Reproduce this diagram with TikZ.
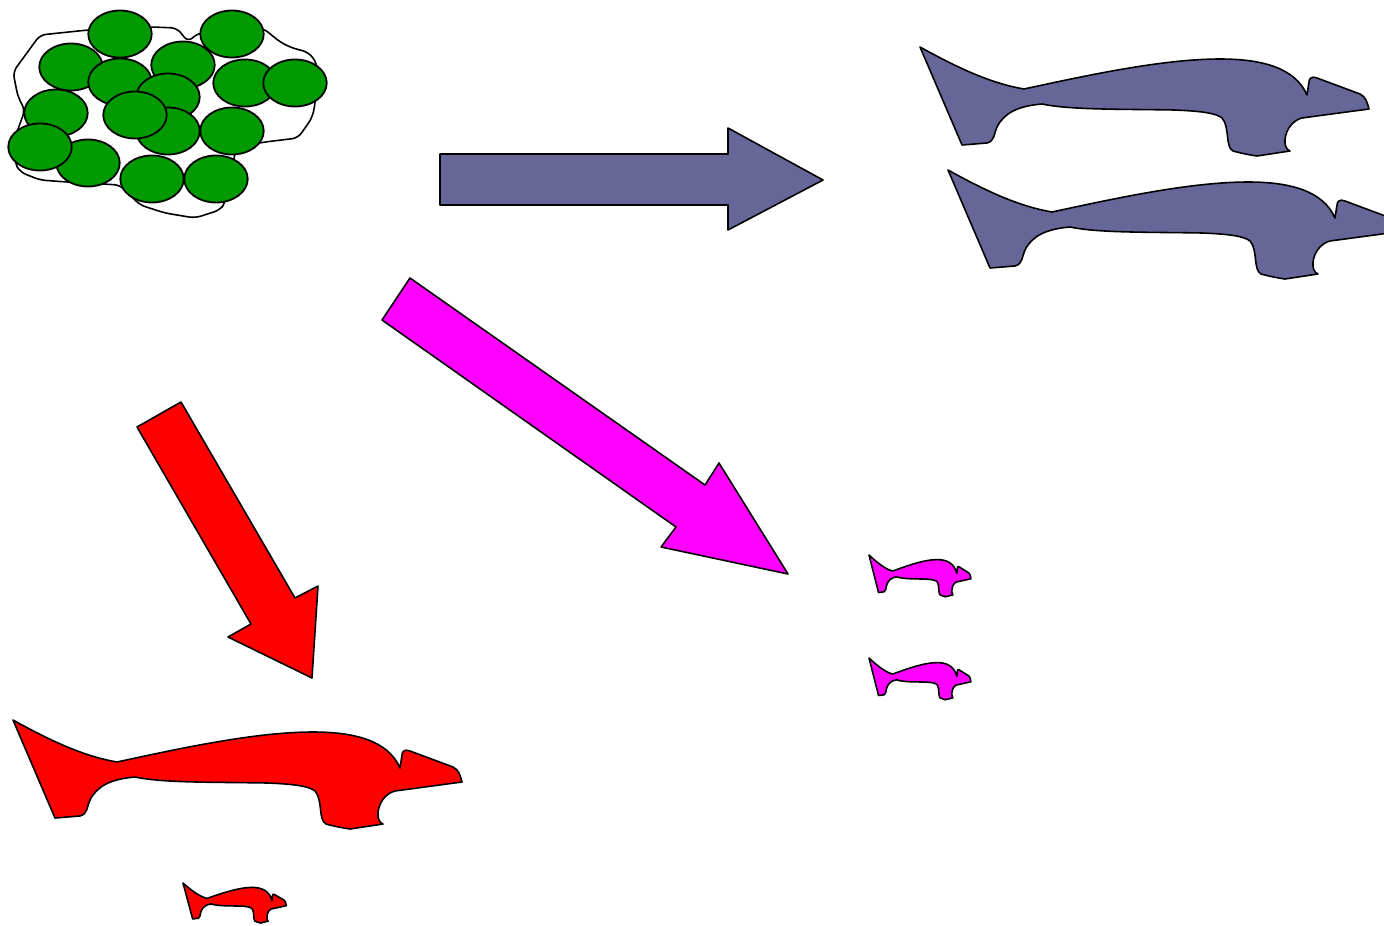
\documentclass[tikz,border=0pt]{standalone}
\definecolor{Slate}{RGB}{102, 102, 153}
\definecolor{Leaf}{RGB}{0, 153, 0}
\definecolor{Fuchsia}{RGB}{255, 0, 255}
\definecolor{Scarlet}{RGB}{255, 0, 0}
\usepackage{tikz}
\usetikzlibrary{calc}

\begin{document}
\begin{tikzpicture}[
        x=0.02cm, y=-0.02cm,
        outline/.style={draw=black, line width=0.9pt, line join=round},
        blob/.style={outline, rounded corners=1.2mm},
        egg/.style={draw=black, fill=Leaf, line width=1pt},
        animal/.pic={
            \filldraw[outline, fill=#1] (0,0) -- (42,98) -- (67,96)
                .. controls (75,94) and (74,86) .. (77,80)
                .. controls (84,66) and (98,59) .. (122,57)
                .. controls (150,63) and (200,62) .. (254,63)
                .. controls (280,64) and (296,66) .. (302,71)
                .. controls (310,80) and (305,100) .. (313,104)
                .. controls (320,106) and (330,108) .. (337,109)
                -- (370,104)
                .. controls (362,101) and (364,85) .. (372,77)
                .. controls (375,74) and (378,72) .. (382,71)
                -- (449,62)
                .. controls (447,55) and (446,50) .. (440,47)
                -- (397,31)
                .. controls (392,29) and (389,31) .. (389,35)
                -- (387,48)
                .. controls (375,20) and (340,12) .. (300,12)
                .. controls (240,12) and (160,30) .. (104,42)
                .. controls (75,37) and (45,25) .. (0,0) -- cycle;
        }
    ]
        \clip (0,0) rectangle (1384,926);

        % nest of eggs
        \draw[blob] (13,72) -- (40,35) -- (88,30) -- (152,27) -- (177,28)
            -- (188,42) -- (198,33) -- (263,28) -- (280,42) -- (292,48)
            -- (308,52) -- (317,63) -- (315,105) -- (312,118) -- (298,138)
            -- (265,142) -- (237,147) -- (234,158) -- (225,203) -- (220,210)
            -- (195,218) -- (165,213) -- (140,205) -- (130,195) -- (120,185)
            -- (67,182) -- (40,180) -- (20,172) -- (15,163) -- (14,140)
            -- (25,110) -- (18,97) -- cycle;
        \foreach \ex/\ey in {120/34, 232/34, 71/67, 183/65, 120/82, 245/83,
                295/83, 56/113, 168/97, 168/131, 135/115, 232/131, 88/163,
                40/147, 152/179, 216/179}
            \draw[egg] (\ex,\ey) ellipse [x radius=0.635cm, y radius=0.47cm];

        % arrows
        \filldraw[outline, fill=Slate] (440,154) -- (728,154) -- (728,128)
            -- (823,180) -- (728,230) -- (728,205) -- (440,205) -- cycle;
        \filldraw[outline, fill=Fuchsia] (410,278) -- (705,485) -- (719,463)
            -- (788,574) -- (661,547) -- (676,527) -- (382,320) -- cycle;
        \filldraw[outline, fill=Scarlet] (181,402) -- (295,598) -- (318,586)
            -- (312,678) -- (228,637) -- (251,624) -- (137,427) -- cycle;

        % animals
        \pic at (920,47) {animal=Slate};
        \pic at (948,170) {animal=Slate};
        \pic[xscale=0.227, yscale=0.383] at (869,555) {animal=Fuchsia};
        \pic[xscale=0.227, yscale=0.383] at (869,658) {animal=Fuchsia};
        \pic at (13,720) {animal=Scarlet};
        \pic[xscale=0.23, yscale=0.367] at (183,883) {animal=Scarlet};
    \end{tikzpicture}
\end{document}
